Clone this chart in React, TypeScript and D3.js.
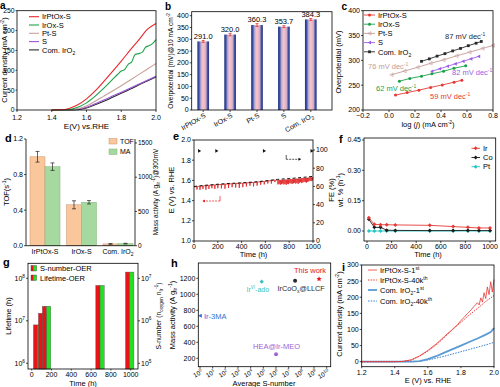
import React from "react";
import * as d3 from "d3";

const FONT = "'Liberation Sans', Arial, Helvetica, sans-serif";
const FS = 7;

// ---------------- data ----------------
// (a) LSV
const aV = [1.4, 1.45, 1.5, 1.55, 1.6, 1.65, 1.7, 1.75, 1.8, 1.85, 1.9, 1.95, 2.0];
const aIrPtOx = [0, 0.5, 4, 13, 28, 48, 72, 97, 123, 150, 176, 203, 218];
const aIrOxV = [1.4, 1.45, 1.5, 1.55, 1.6, 1.65, 1.7, 1.75, 1.78, 1.8, 1.82, 1.84, 1.86, 1.88, 1.9, 1.92, 1.94, 1.96, 1.98, 2.0];
const aIrOx = [0, 0, 1, 7, 18, 35, 55, 77, 90, 98, 102, 115, 121, 140, 142, 145, 158, 162, 167, 177];
const aPtS = [0, 0, 0, 3, 10, 22, 35, 48, 61, 75, 89, 103, 117];
const aS = [0, 0, 0, 2, 7, 16, 25, 35, 45, 55, 65, 75, 85];
const aCom = [0, 0, 0, 1, 5, 13, 22, 32, 42, 52, 63, 73, 83];

// (b) overpotential
const bCats = ["IrPtOx-S", "IrOx-S", "Pt-S", "S", "Com. IrO"];
const bVals = [291.0, 320.0, 360.3, 353.7, 384.3];
const bErr = [4, 5, 6, 4, 4];

// (c) Tafel
const cRedX = [0.05, 0.14, 0.23, 0.32, 0.41, 0.5, 0.56];
const cRedY = [230, 235, 240, 245.5, 250.5, 256, 260];
const cGreenX = [0.08, 0.16, 0.25, 0.33, 0.42, 0.5, 0.59];
const cGreenY = [258, 263.5, 268, 273, 278, 284, 289];
const cPtX = [0.02, 0.12, 0.22, 0.32, 0.42, 0.52, 0.62, 0.72, 0.8];
const cPtY = [271, 278.5, 286, 294, 301, 309, 316.5, 324, 330];
const cSX = [0.33, 0.39, 0.45, 0.51, 0.57, 0.63, 0.69];
const cSY = [278, 283, 288, 293, 298, 303, 308];
const cComX = [0.25, 0.31, 0.37, 0.43, 0.49, 0.55, 0.61, 0.67, 0.71];
const cComY = [298, 303, 308.5, 313.5, 319, 324, 329.5, 334.5, 338];

// (d) TOF / MA
const dCats = ["IrPtOx-S", "IrOx-S", "Com. IrO"];
const dTOF = [1.0, 0.46, 0.02];
const dTOFerr = [0.06, 0.045, 0.005];
const dMA = [1154, 634, 30];
const dMAerr = [55, 25, 5];

// (e) stability
const eBaseT = [0, 100, 200, 300, 400, 500, 600, 700, 800, 900, 1000];
const eBaseV = [1.54, 1.552, 1.562, 1.57, 1.576, 1.584, 1.595, 1.61, 1.618, 1.628, 1.64];
const eDipT = [25, 50, 75, 100, 125, 150, 175, 200, 230, 260, 290, 320, 350, 380, 410, 440, 470, 500, 530, 560, 590, 620, 650, 680,
  705, 715, 725, 735, 745, 755, 765, 775, 785, 795, 805, 815, 825, 835, 845, 855, 865, 875, 885, 895, 905, 915, 925, 935, 945, 955, 965, 975, 985, 995];
const eDipD = [0.03, 0.035, 0.03, 0.04, 0.035, 0.03, 0.04, 0.035, 0.04, 0.045, 0.04, 0.035, 0.04, 0.045, 0.04, 0.035, 0.03, 0.04, 0.035, 0.03, 0.03, 0.025, 0.03, 0.02,
  0.04, 0.035, 0.045, 0.04, 0.035, 0.045, 0.04, 0.05, 0.04, 0.045, 0.035, 0.04, 0.045, 0.04, 0.035, 0.045, 0.04, 0.05, 0.04, 0.035, 0.045, 0.04, 0.035, 0.04, 0.045, 0.04, 0.035, 0.03, 0.035, 0.03];
const eFET = [45, 190, 590, 990];
const eFE = [99, 99, 99, 99];

// (f) dissolution
const fT = [15, 60, 110, 160, 230, 510, 700, 820, 910, 1000];
const fIr = [0.065, 0.033, 0.031, 0.031, 0.03, 0.028, 0.022, 0.018, 0.015, 0.015];
const fCo = [0.058, 0.018, 0.018, 0.004, 0.003, 0.002, 0.002, 0.003, 0.002, 0.002];
const fPt = [0, 0, 0, 0, 0, 0, 0, 0, 0, 0];

// (g) S-number / lifetime
const gT = [60, 110, 150, 690, 990];
const gLifetime = [8e6, 1.5e7, 2.2e7, 6.8e7, 1.4e8];
const gSnum = [8e5, 1.5e6, 2.2e6, 6.8e6, 1.4e7];

// (h) comparison
const hS = [1, 7.4e4, 3.2e7, 2.5e9, 1e6];
const hMA = [732, 1158, 1170, 1190, 252];

// (i) LSV before/after
const iRedX = [1.2, 1.3, 1.4, 1.45, 1.5, 1.55, 1.6, 1.65, 1.7, 1.72, 1.74, 1.76, 1.78, 1.8, 1.82, 1.84, 1.86, 1.88, 1.9, 1.91, 1.92, 1.93, 1.94, 1.95, 1.96, 1.97, 1.98, 1.99, 2.0];
const iRedY = [0, 0, 0, 1, 6, 18, 35, 55, 78, 88, 96, 106, 115, 128, 138, 150, 160, 172, 183, 176, 198, 185, 214, 196, 232, 208, 248, 216, 255];
const iRed40X = [1.2, 1.4, 1.45, 1.5, 1.55, 1.6, 1.65, 1.7, 1.75, 1.8, 1.85, 1.9, 1.95, 2.0];
const iRed40Y = [0, 0, 1, 5, 17, 33, 52, 75, 100, 122, 145, 165, 187, 205];
const iBlueX = [1.2, 1.4, 1.5, 1.55, 1.6, 1.65, 1.7, 1.75, 1.8, 1.85, 1.9, 1.95, 1.98, 2.0];
const iBlueY = [0, 0, 0, 2, 8, 17, 28, 39, 50, 61, 72, 84, 92, 104];
const iBlue40X = [1.2, 1.4, 1.5, 1.55, 1.6, 1.65, 1.7, 1.75, 1.8, 1.85, 1.9, 1.95, 2.0];
const iBlue40Y = [0, 0, 0, 1, 5, 11, 17, 24, 31, 38, 45, 52, 60];

// ---------------- helpers ----------------
type N = number;
const zip = (xs: N[], ys: N[]) => xs.map((x, i) => [x, ys[i]] as [N, N]);

function AxisB({ scale, vals, y, fmt, len = 2, fs = FS, gap = 0 }: any) {
  return <g>{vals.map((v: N, i: N) => (
    <g key={i}>
      <line x1={scale(v)} x2={scale(v)} y1={y} y2={y + len} stroke="#000" strokeWidth={0.7} />
      <text x={scale(v)} y={y + len + fs * 0.9 + gap} textAnchor="middle" fontSize={fs}>{fmt(v)}</text>
    </g>))}</g>;
}
function AxisL({ scale, vals, x, fmt, len = 2, fs = FS }: any) {
  return <g>{vals.map((v: N, i: N) => (
    <g key={i}>
      <line x1={x - len} x2={x} y1={scale(v)} y2={scale(v)} stroke="#000" strokeWidth={0.7} />
      <text x={x - len - 1} y={scale(v) + fs * 0.35} textAnchor="end" fontSize={fs}>{fmt(v)}</text>
    </g>))}</g>;
}
function AxisR({ scale, vals, x, fmt, len = 2, fs = FS }: any) {
  return <g>{vals.map((v: N, i: N) => (
    <g key={i}>
      <line x1={x} x2={x + len} y1={scale(v)} y2={scale(v)} stroke="#000" strokeWidth={0.7} />
      <text x={x + len + 1} y={scale(v) + fs * 0.35} textAnchor="start" fontSize={fs}>{fmt(v)}</text>
    </g>))}</g>;
}
const Box = ({ x0, x1, y0, y1 }: any) => (
  <rect x={x0} y={y0} width={x1 - x0} height={y1 - y0} fill="none" stroke="#000" strokeWidth={0.8} />
);
const Sup = ({ t, fs = 5 }: any) => <tspan dy={-3} fontSize={fs}>{t}</tspan>;
const VTitle = ({ x, y, children, fs = 7.5 }: any) => (
  <text transform={`translate(${x},${y}) rotate(-90)`} textAnchor="middle" fontSize={fs}>{children}</text>
);
const Letter = ({ x, y, t, fs = 11 }: any) => <text x={x} y={y} fontSize={fs} fontWeight="bold">{t}</text>;
const pow10 = (e: N) => <>10<tspan dy={-3} fontSize={4.8}>{e}</tspan></>;

// ---------------- panels ----------------
function PanelA() {
  const x = d3.scaleLinear([1.2, 2.0], [17, 156]);
  const y = d3.scaleLinear([0, 250], [110, 10.7]);
  const line = d3.line<[N, N]>().x(d => x(d[0])).y(d => y(d[1])).curve(d3.curveMonotoneX);
  const series = [
    { n: "IrPtOx-S", c: "#e8282b", d: zip(aV, aIrPtOx) },
    { n: "IrOx-S", c: "#1fa34a", d: zip(aIrOxV, aIrOx) },
    { n: "Pt-S", c: "#c9a09a", d: zip(aV, aPtS) },
    { n: "S", c: "#9a55d8", d: zip(aV, aS) },
    { n: "Com. IrO", c: "#2a2a2a", d: zip(aV, aCom) },
  ];
  return <g>
    {series.slice().reverse().map(s => <path key={s.n} d={line(s.d)!} fill="none" stroke={s.c} strokeWidth={1.1} />)}
    <Box x0={17} x1={156} y0={10.7} y1={110} />
    <AxisB scale={x} vals={[1.2, 1.4, 1.6, 1.8, 2.0]} y={110} gap={1.5} fmt={d3.format(".1f")} />
    <AxisL scale={y} vals={[0, 50, 100, 150, 200, 250]} x={17} len={1.5} fs={6.8} fmt={(d: N) => d} />
    {series.map((s, i) => <g key={s.n}>
      <line x1={29} x2={39} y1={16.7 + i * 8.3} y2={16.7 + i * 8.3} stroke={s.c} strokeWidth={1.1} />
      <text x={42} y={16.7 + i * 8.3 + 2.7} fontSize={7.5}>{s.n}{i === 4 ? <tspan dy={2} fontSize={5}>2</tspan> : null}</text>
    </g>)}
    <text x={86.5} y={128.5} textAnchor="middle" fontSize={8}>E(V) vs.RHE</text>
    <VTitle x={6.5} y={60}>Current density (mA cm<Sup t="-2" /><tspan dy={3}>)</tspan></VTitle>
    <Letter x={0} y={9.3} fs={10} t="a" />
  </g>;
}

function PanelB() {
  const x = d3.scalePoint(bCats.map((c, i) => c + i), [203.2, 310.8]);
  const y = d3.scaleLinear([0, 400], [110, 15.7]);
  const bw = 11.7;
  return <g>
    <defs>
      <linearGradient id="bgrad" x1="0" x2="1" y1="0" y2="0">
        <stop offset="0" stopColor="#263582" />
        <stop offset="0.14" stopColor="#3d50a6" />
        <stop offset="0.3" stopColor="#b7aed5" />
        <stop offset="0.45" stopColor="#f5c3cb" />
        <stop offset="0.6" stopColor="#f3b9c1" />
        <stop offset="0.74" stopColor="#c6aacb" />
        <stop offset="0.87" stopColor="#3f52a5" />
        <stop offset="1" stopColor="#263582" />
      </linearGradient>
    </defs>
    {bVals.map((v, i) => {
      const cx = x(bCats[i] + i)!;
      return <g key={i}>
        <rect x={cx - bw / 2} y={y(v)} width={bw} height={110 - y(v)} fill="url(#bgrad)" />
        <line x1={cx} x2={cx} y1={y(v - bErr[i])} y2={y(v + bErr[i])} stroke="#e03030" strokeWidth={0.8} />
        <line x1={cx - 1.5} x2={cx + 1.5} y1={y(v + bErr[i])} y2={y(v + bErr[i])} stroke="#e03030" strokeWidth={0.8} />
        <line x1={cx - 1.5} x2={cx + 1.5} y1={y(v - bErr[i])} y2={y(v - bErr[i])} stroke="#e03030" strokeWidth={0.8} />
        <text x={cx} y={y(v + bErr[i]) - 1.5} textAnchor="middle" fontSize={7.5}>{v.toFixed(1)}</text>
        <line x1={cx} x2={cx} y1={110} y2={112} stroke="#000" strokeWidth={0.7} />
        <text transform={`translate(${cx + 3},${117}) rotate(-30)`} textAnchor="end" fontSize={7}>
          {bCats[i]}{i === 4 ? <tspan dy={2} fontSize={5}>2</tspan> : null}
        </text>
      </g>;
    })}
    <Box x0={191.7} x1={332} y0={11.7} y1={110} />
    <AxisL scale={y} vals={[0, 50, 100, 150, 200, 250, 300, 350, 400]} x={191.7} fmt={(d: N) => d} />
    <VTitle x={173} y={61} fs={6.6}>Overpotential (mV)@10 mA cm<Sup t="-2" fs={4.5} /></VTitle>
    <Letter x={165} y={9.5} fs={10} t="b" />
  </g>;
}

function PanelC() {
  const x = d3.scaleLinear([-0.2, 0.8], [363, 493]);
  const y = d3.scaleLinear([200, 400], [110, 10.7]);
  const line = d3.line<[N, N]>().x(d => x(d[0])).y(d => y(d[1]));
  const ser = [
    { n: "IrPtOx-S", c: "#e53935", d: zip(cRedX, cRedY), m: "circle" },
    { n: "IrOx-S", c: "#1aa04a", d: zip(cGreenX, cGreenY), m: "circle" },
    { n: "Pt-S", c: "#c49c98", d: zip(cPtX, cPtY), m: "otri" },
    { n: "S", c: "#9b5de5", d: zip(cSX, cSY), m: "tri" },
    { n: "Com. IrO", c: "#2a2a2a", d: zip(cComX, cComY), m: "sq" },
  ];
  const mark = (m: string, c: string, px: N, py: N, k: any) => {
    if (m === "circle") return <circle key={k} cx={px} cy={py} r={1.5} fill={c} />;
    if (m === "sq") return <rect key={k} x={px - 1.4} y={py - 1.4} width={2.8} height={2.8} fill={c} />;
    const pts = `${px - 1.8},${py} ${px + 1.5},${py - 1.8} ${px + 1.5},${py + 1.8}`;
    if (m === "tri") return <polygon key={k} points={pts} fill={c} />;
    return <polygon key={k} points={pts} fill="none" stroke={c} strokeWidth={0.6} />;
  };
  return <g>
    {ser.map(s => <g key={s.n}>
      <path d={line(s.d)!} fill="none" stroke={s.c} strokeWidth={0.9} />
      {s.d.map((p, j) => mark(s.m, s.c, x(p[0]), y(p[1]), j))}
    </g>)}
    <Box x0={363} x1={493} y0={10.7} y1={110} />
    <AxisB scale={x} vals={[-0.2, 0, 0.2, 0.4, 0.6, 0.8]} y={110} fmt={d3.format(".1f")} />
    <AxisL scale={y} vals={[200, 250, 300, 350, 400]} x={363} fmt={(d: N) => d} />
    {ser.map((s, i) => {
      const ly = 15 + i * 9.2;
      return <g key={s.n}>
        <line x1={364} x2={375} y1={ly} y2={ly} stroke={s.c} strokeWidth={0.9} />
        {mark(s.m, s.c, 369.5, ly, "m")}
        <text x={378} y={ly + 2.7} fontSize={7.5}>{s.n}{i === 4 ? <tspan dy={2} fontSize={5}>2</tspan> : null}</text>
      </g>;
    })}
    <text x={445} y={39} fontSize={7.5} fill="#2a2a2a">87 mV dec<Sup t="-1" /></text>
    <text x={368} y={69} fontSize={7.5} fill="#c49c98">76 mV dec<Sup t="-1" /></text>
    <text x={452} y={75} fontSize={7.5} fill="#9b5de5">82 mV dec<Sup t="-1" /></text>
    <text x={376} y={91} fontSize={7.5} fill="#1aa04a">62 mV dec<Sup t="-1" /></text>
    <text x={430} y={98.5} fontSize={7.5} fill="#e53935">59 mV dec<Sup t="-1" /></text>
    <text x={428} y={127} textAnchor="middle" fontSize={7.5}>log (<tspan fontStyle="italic">j</tspan>) (mA cm<Sup t="-2" /><tspan dy={3}>)</tspan></text>
    <VTitle x={341} y={62}>Overpotential (mV)</VTitle>
    <Letter x={341.5} y={9.5} fs={10} t="c" />
  </g>;
}

function PanelD() {
  const x = d3.scalePoint(dCats, [45, 118]);
  const yL = d3.scaleLinear([0, 1.2], [245.7, 139]);
  const yR = d3.scaleLinear([0, 1558], [245.7, 139]);
  const bw = 15;
  const eb = (cx: N, y0: N, y1: N, k: string) => <g key={k}>
    <line x1={cx} x2={cx} y1={y0} y2={y1} stroke="#222" strokeWidth={0.7} />
    <line x1={cx - 2} x2={cx + 2} y1={y0} y2={y0} stroke="#222" strokeWidth={0.7} />
    <line x1={cx - 2} x2={cx + 2} y1={y1} y2={y1} stroke="#222" strokeWidth={0.7} />
  </g>;
  return <g>
    {dCats.map((c, i) => {
      const cx = x(c)!;
      return <g key={c}>
        <rect x={cx - bw} y={yL(dTOF[i])} width={bw} height={245.7 - yL(dTOF[i])} fill="#f9c79b" stroke="#c8926a" strokeWidth={0.5} />
        <rect x={cx} y={yR(dMA[i])} width={bw} height={245.7 - yR(dMA[i])} fill="#a6d9a0" stroke="#80b57a" strokeWidth={0.5} />
        {eb(cx - bw / 2, yL(dTOF[i] - dTOFerr[i]), yL(dTOF[i] + dTOFerr[i]), "a")}
        {eb(cx + bw / 2, yR(dMA[i] - dMAerr[i]), yR(dMA[i] + dMAerr[i]), "b")}
        <text x={cx} y={253.5} textAnchor="middle" fontSize={7}>{c}{i === 2 ? <tspan dy={2} fontSize={5}>2</tspan> : null}</text>
      </g>;
    })}
    <line x1={26} x2={26} y1={139} y2={245.7} stroke="#000" strokeWidth={0.8} />
    <line x1={135} x2={135} y1={139} y2={245.7} stroke="#000" strokeWidth={0.8} />
    <line x1={26} x2={135} y1={245.7} y2={245.7} stroke="#000" strokeWidth={0.8} />
    <AxisL scale={yL} vals={[0, 0.4, 0.8, 1.2]} x={26} fmt={d3.format(".1f")} />
    <AxisR scale={yR} vals={[0, 500, 1000, 1500]} x={135} fs={6.5} fmt={(d: N) => d} />
    <rect x={109} y={138.5} width={8} height={5.5} fill="#f9c79b" stroke="#c8926a" strokeWidth={0.5} />
    <text x={120} y={143.5} fontSize={7}>TOF</text>
    <rect x={109} y={149} width={8} height={5.5} fill="#a6d9a0" stroke="#80b57a" strokeWidth={0.5} />
    <text x={120} y={154} fontSize={7}>MA</text>
    <VTitle x={9} y={192}>TOF(s<Sup t="-1" /><tspan dy={3}>)</tspan></VTitle>
    <VTitle x={158} y={192} fs={6.5}>Mass activity (A g<tspan dy={2} fontSize={4.5}>Ir</tspan><tspan dy={-5} fontSize={4.5}>-1</tspan><tspan dy={3}>)@300mV</tspan></VTitle>
    <Letter x={5} y={142} t="d" />
  </g>;
}

function PanelE() {
  const x = d3.scaleLinear([0, 1000], [194, 313]);
  const y = d3.scaleLinear([1, 2], [241, 140]);
  const yR = d3.scaleLinear([0, 100], [241, 150]);
  const base = d3.scaleLinear(eBaseT, eBaseV);
  const pts: [N, N][] = [[0, base(0) - 0.005]];
  eDipT.forEach((t, i) => {
    const off = t >= 700 ? -0.01 : -0.004;
    pts.push([t - 1, base(t - 1) + off]);
    pts.push([t, base(t) + off - eDipD[i]]);
    pts.push([t + 3, base(t + 3) + off]);
  });
  pts.push([1000, base(1000) - 0.006]);
  const line = d3.line<[N, N]>().x(d => x(d[0])).y(d => y(d[1]));
  return <g>
    <path d={line(pts)!} fill="none" stroke="#e02020" strokeWidth={0.8} />
    <path d={line(zip(eBaseT, eBaseV))!} fill="none" stroke="#111" strokeWidth={1} strokeDasharray="3,2.5" />
    {eFET.map((t, i) => <polygon key={i} points={`${x(t) - 1.3},${yR(eFE[i]) - 1.8} ${x(t) + 1.8},${yR(eFE[i])} ${x(t) - 1.3},${yR(eFE[i]) + 1.8}`} fill="#111" />)}
    <line x1={x(76)} x2={x(219)} y1={y(1.396)} y2={y(1.396)} stroke="#e02020" strokeWidth={0.7} strokeDasharray="2,1" />
    <line x1={x(219)} x2={x(219)} y1={y(1.396)} y2={y(1.445)} stroke="#e02020" strokeWidth={0.7} />
    <polygon points={`${x(70)},${y(1.396)} ${x(92)},${y(1.396) - 1.5} ${x(92)},${y(1.396) + 1.5}`} fill="#e02020" />
    <line x1={x(775)} x2={x(893)} y1={yR(89.8)} y2={yR(89.8)} stroke="#111" strokeWidth={0.7} strokeDasharray="2,1" />
    <line x1={x(775)} x2={x(775)} y1={yR(89.8)} y2={yR(94.5)} stroke="#111" strokeWidth={0.7} />
    <polygon points={`${x(900)},${yR(89.8)} ${x(878)},${yR(89.8) - 1.5} ${x(878)},${yR(89.8) + 1.5}`} fill="#111" />
    <Box x0={194} x1={313} y0={140} y1={241} />
    <AxisB scale={x} vals={[0, 200, 400, 600, 800, 1000]} y={241} fmt={(d: N) => d} />
    <AxisL scale={y} vals={[1.0, 1.2, 1.4, 1.6, 1.8, 2.0]} x={194} fmt={d3.format(".1f")} />
    <AxisR scale={yR} vals={[0, 20, 40, 60, 80, 100]} x={313} fmt={(d: N) => d} />
    <text x={253.5} y={256.5} textAnchor="middle" fontSize={7.5}>Time (h)</text>
    <VTitle x={174} y={190}>E (V) vs. RHE</VTitle>
    <VTitle x={333.5} y={190}>FE (%)</VTitle>
    <Letter x={173} y={140} t="e" />
  </g>;
}

function PanelF() {
  const x = d3.scaleLinear([0, 1000], [367, 490]);
  const y = d3.scaleLinear([0, 0.45], [231, 140]);
  const line = d3.line<[N, N]>().x(d => x(d[0])).y(d => y(d[1]));
  const ser = [
    { n: "Pt", c: "#27c4c4", d: zip(fT, fPt) },
    { n: "Co", c: "#1a1a1a", d: zip(fT, fCo) },
    { n: "Ir", c: "#e53935", d: zip(fT, fIr) },
  ];
  const dia = (px: N, py: N, c: string, k: any) => <polygon key={k} points={`${px},${py - 2} ${px + 2},${py} ${px},${py + 2} ${px - 2},${py}`} fill={c} />;
  return <g>
    {ser.map(s => <g key={s.n}>
      <path d={line(s.d)!} fill="none" stroke={s.c} strokeWidth={0.9} />
      {s.d.map((p, j) => dia(x(p[0]), y(p[1]), s.c, j))}
    </g>)}
    <Box x0={364} x1={495.7} y0={138} y1={241} />
    <AxisB scale={x} vals={[0, 200, 400, 600, 800, 1000]} y={241} fmt={(d: N) => d} />
    <AxisL scale={y} vals={[0, 0.15, 0.3, 0.45]} x={364} fmt={d3.format(".2f")} />
    {ser.slice().reverse().map((s, i) => {
      const ly = 148.3 + i * 9.2;
      return <g key={s.n}>
        <line x1={471.5} x2={480} y1={ly} y2={ly} stroke={s.c} strokeWidth={0.9} />
        {dia(475.7, ly, s.c, "m")}
        <text x={483} y={ly + 2.7} fontSize={7.5}>{s.n}</text>
      </g>;
    })}
    <text x={428} y={256.5} textAnchor="middle" fontSize={7.5}>Time (h)</text>
    <VTitle x={343} y={190}>wt. % (h<Sup t="-1" /><tspan dy={3}>)</tspan></VTitle>
    <Letter x={339} y={143} t="f" />
  </g>;
}

function PanelG() {
  const x = d3.scaleLinear([0, 1000], [31.7, 130.7]);
  const yL = d3.scaleLog([1e6, 1e8], [363.3, 278.3]);
  const yR = d3.scaleLog([1e5, 1e7], [363.3, 278.3]);
  const bw = 4.2;
  const bottom = 369;
  return <g>
    {gT.map((t, i) => <g key={i}>
      <rect x={x(t) - bw} y={yR(gSnum[i])} width={bw} height={bottom - yR(gSnum[i])} fill="#e8141a" stroke="#555" strokeWidth={0.4} />
      <rect x={x(t)} y={yL(gLifetime[i])} width={bw} height={bottom - yL(gLifetime[i])} fill="#22e022" stroke="#555" strokeWidth={0.4} />
    </g>)}
    <Box x0={28} x1={138} y0={263.3} y1={369} />
    <AxisB scale={x} vals={[0, 200, 400, 600, 800, 1000]} y={369} len={1.5} fmt={(d: N) => d} />
    <AxisL scale={yL} vals={[1e6, 1e7, 1e8]} x={28} fmt={(d: N) => pow10(Math.round(Math.log10(d)))} />
    <AxisR scale={yR} vals={[1e5, 1e6, 1e7]} x={138} fmt={(d: N) => pow10(Math.round(Math.log10(d)))} />
    <rect x={31} y={265.5} width={2.8} height={5.5} fill="#e8141a" />
    <rect x={33.8} y={265.5} width={2.8} height={5.5} fill="#22e022" />
    <rect x={31} y={265.5} width={5.6} height={5.5} fill="none" stroke="#444" strokeWidth={0.4} />
    <text x={40} y={271} fontSize={7.5}>S-number-OER</text>
    <rect x={31} y={275} width={2.8} height={5.5} fill="#e8141a" />
    <rect x={33.8} y={275} width={2.8} height={5.5} fill="#22e022" />
    <rect x={31} y={275} width={5.6} height={5.5} fill="none" stroke="#444" strokeWidth={0.4} />
    <text x={40} y={280.5} fontSize={7.5}>Lifetime-OER</text>
    <text x={83} y={386} textAnchor="middle" fontSize={7.5}>Time (h)</text>
    <VTitle x={11} y={316}>Lifetime (h)</VTitle>
    <VTitle x={160.5} y={316} fs={6.8}>S-number (n<tspan dy={2} fontSize={4.5}>oxygen</tspan><tspan dy={-2}> n</tspan><tspan dy={2} fontSize={4.5}>Ir</tspan><tspan dy={-5} fontSize={4.5}>-1</tspan><tspan dy={3}>)</tspan></VTitle>
    <Letter x={3} y={266} t="g" />
  </g>;
}

function PanelH() {
  const x = d3.scaleLog([1, 1e10], [200, 326.7]);
  const y = d3.scaleLinear([200, 1200], [358.3, 278.3]);
  const cols = ["#2f6fd6", "#35c4bd", "#2a2a2a", "#e8141a", "#a064d4"];
  const px = hS.map(v => x(v));
  const py = hMA.map(v => y(v));
  const star = (cx: N, cy: N, r: N) => {
    const p: string[] = [];
    for (let k = 0; k < 10; k++) {
      const a = -Math.PI / 2 + (k * Math.PI) / 5;
      const rr = k % 2 === 0 ? r : r * 0.45;
      p.push(`${cx + rr * Math.cos(a)},${cy + rr * Math.sin(a)}`);
    }
    return p.join(" ");
  };
  const decades = d3.range(0, 11);
  return <g>
    <polygon points={`${px[0] - 2},${py[0]} ${px[0] + 1.8},${py[0] - 2} ${px[0] + 1.8},${py[0] + 2}`} fill={cols[0]} />
    <polygon points={`${px[1]},${py[1] - 2.2} ${px[1] + 2.2},${py[1]} ${px[1]},${py[1] + 2.2} ${px[1] - 2.2},${py[1]}`} fill={cols[1]} />
    <circle cx={px[2]} cy={py[2]} r={2} fill={cols[2]} />
    <polygon points={star(px[3], py[3], 2.8)} fill={cols[3]} />
    <circle cx={px[4]} cy={py[4]} r={2} fill={cols[4]} />
    <text x={px[0] + 4} y={py[0] + 2.8} fontSize={7.5} fill={cols[0]}>Ir-3MA</text>
    <text x={246.5} y={py[1] + 10} fontSize={7} fill={cols[1]}>Ir<tspan dy={-3} fontSize={4.5}>VI</tspan><tspan dy={3}>-ado</tspan></text>
    <text x={277.5} y={py[2] + 10} fontSize={7.3} fill={cols[2]}>IrCoO<tspan dy={2} fontSize={5}>x</tspan><tspan dy={-2}>@LLCF</tspan></text>
    <text x={294} y={py[3] - 6} fontSize={7.5} fill={cols[3]}>This work</text>
    <text x={253} y={py[4] - 5.5} fontSize={7.5} fill={cols[4]}>HEA@Ir-MEO</text>
    <Box x0={198.3} x1={330.7} y0={263} y1={366.7} />
    {decades.map(e => <g key={e}>
      <line x1={x(10 ** e)} x2={x(10 ** e)} y1={366.7} y2={368.5} stroke="#000" strokeWidth={0.7} />
      <text transform={`translate(${x(10 ** e) + 3},${373}) rotate(-30)`} textAnchor="end" fontSize={6.3}>10<tspan dy={-2.5} fontSize={4.3}>{e}</tspan></text>
    </g>)}
    <AxisL scale={y} vals={[200, 400, 600, 800, 1000, 1200]} x={198.3} fmt={(d: N) => d} />
    <text x={264} y={386} textAnchor="middle" fontSize={7.5}>Average S-number</text>
    <VTitle x={175} y={315}>Mass activity (A g<tspan dy={2} fontSize={5}>Ir</tspan><tspan dy={-5} fontSize={5}>-1</tspan><tspan dy={3}>)</tspan></VTitle>
    <Letter x={171} y={267} t="h" />
  </g>;
}

function PanelI() {
  const x = d3.scaleLinear([1.2, 2.0], [361.7, 494]);
  const y = d3.scaleLinear([0, 300], [361.7, 265]);
  const line = d3.line<[N, N]>().x(d => x(d[0])).y(d => y(d[1]));
  const ser = [
    { n: "Com. IrO-40k", c: "#3a7fd6", d: zip(iBlue40X, iBlue40Y), w: 1, dash: "1.5,1.2", lab: <>Com. IrO<tspan dy={2} fontSize={5}>2</tspan><tspan dy={-2}>-40k</tspan><tspan dy={-3} fontSize={5}>th</tspan></> },
    { n: "Com. IrO-1st", c: "#5b9bd5", d: zip(iBlueX, iBlueY), w: 1.8, dash: undefined, lab: <>Com. IrO<tspan dy={2} fontSize={5}>2</tspan><tspan dy={-2}>-1</tspan><tspan dy={-3} fontSize={5}>st</tspan></> },
    { n: "IrPtOx-S-40k", c: "#e53935", d: zip(iRed40X, iRed40Y), w: 1, dash: "1.5,1.2", lab: <>IrPtOx-S-40k<tspan dy={-3} fontSize={5}>th</tspan></> },
    { n: "IrPtOx-S-1st", c: "#e53935", d: zip(iRedX, iRedY), w: 0.8, dash: undefined, lab: <>IrPtOx-S-1<tspan dy={-3} fontSize={5}>st</tspan></> },
  ];
  const legY = [270, 280, 290, 301];
  const legend = [ser[3], ser[2], ser[1], ser[0]];
  return <g>
    {ser.map(s => <path key={s.n} d={line(s.d)!} fill="none" stroke={s.c} strokeWidth={s.w} strokeDasharray={s.dash} />)}
    <Box x0={361.7} x1={494} y0={265} y1={366.7} />
    <AxisB scale={x} vals={[1.2, 1.4, 1.6, 1.8, 2.0]} y={366.7} len={1.5} fmt={d3.format(".1f")} />
    <AxisL scale={y} vals={[0, 50, 100, 150, 200, 250, 300]} x={361.7} fmt={(d: N) => d} />
    {legend.map((s, i) => <g key={s.n}>
      <line x1={368} x2={377} y1={legY[i]} y2={legY[i]} stroke={s.c} strokeWidth={s.w} strokeDasharray={s.dash} />
      <text x={380} y={legY[i] + 2.7} fontSize={7.5}>{s.lab}</text>
    </g>)}
    <text x={428} y={383} textAnchor="middle" fontSize={7.5}>E (V) vs. RHE</text>
    <VTitle x={342} y={314}>Current density (mA cm<Sup t="-2" /><tspan dy={3}>)</tspan></VTitle>
    <Letter x={342} y={271} t="i" />
  </g>;
}

export default function App() {
  return (
    <>
      <style>{`body{margin:0}`}</style>
      <svg width={500} height={387} style={{ display: "block", background: "#fff" }} fontFamily={FONT}>
        <PanelA />
        <PanelB />
        <PanelC />
        <PanelD />
        <PanelE />
        <PanelF />
        <PanelG />
        <PanelH />
        <PanelI />
      </svg>
    </>
  );
}
